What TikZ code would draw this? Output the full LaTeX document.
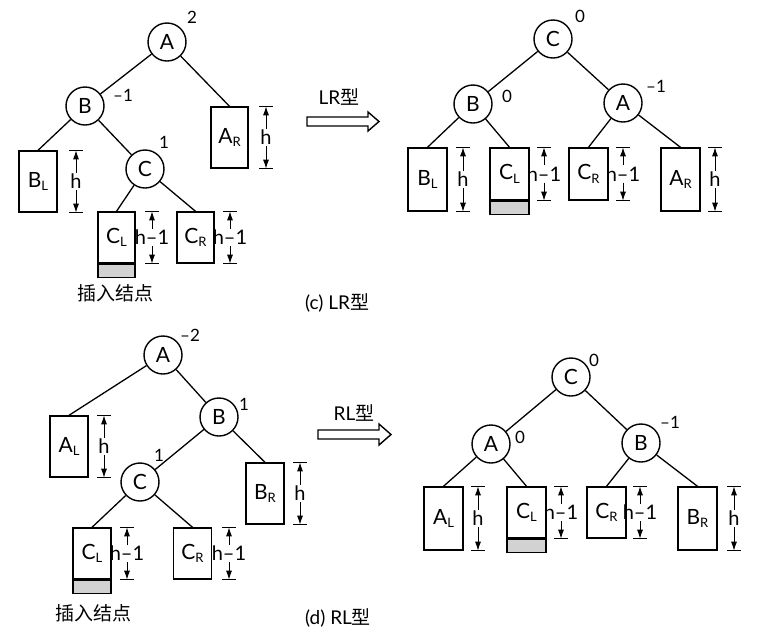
\documentclass[tikz,border=0pt]{standalone}
\usepackage{fontspec}
\setmainfont{Lato}
\newfontfamily\cjk{Noto Sans CJK SC}
\usetikzlibrary{arrows.meta}
\newcommand\subs[1]{\raisebox{-0.35ex}{\fontsize{13}{13}\selectfont #1}}
\newcommand\dimmark[4]{%
  \node[dimlbl] (#1) at (#3.center -| #2,0) {#4};
  \path (#1 |- #3.north) coordinate (#1t);
  \path (#1 |- #3.south) coordinate (#1b);
  \draw[dimarr] (#1) -- (#1t);
  \draw[dimarr] (#1) -- (#1b);
  \draw[dimtick] ([xshift=-7pt]#1t) -- ([xshift=7pt]#1t);
  \draw[dimtick] ([xshift=-7pt]#1b) -- ([xshift=7pt]#1b);
}
\begin{document}
\begin{tikzpicture}[x=1pt,y=-1pt,
  every node/.style={inner sep=0pt},
  circ/.style={circle,draw,line width=1.4pt,minimum size=38pt,font=\fontsize{21}{21}\selectfont},
  tallbox/.style={rectangle,draw,line width=1.4pt,minimum width=38pt,minimum height=62pt,font=\fontsize{21}{21}\selectfont},
  shortbox/.style={rectangle,draw,line width=1.4pt,minimum width=38pt,minimum height=51pt,font=\fontsize{21}{21}\selectfont},
  graybox/.style={rectangle,draw,line width=1.4pt,fill=gray!35,minimum width=38pt,minimum height=13pt},
  bal/.style={font=\fontsize{17}{17}\selectfont},
  dimlbl/.style={inner sep=1pt,font=\fontsize{20}{20}\selectfont},
  dimarr/.style={line width=1pt,-{Latex[length=9pt,width=6pt]}},
  dimtick/.style={line width=1pt},
  edge/.style={line width=1.3pt},
  txt/.style={font=\fontsize{19}{19}\selectfont},
  hollow/.style={line width=1.4pt}
]
\useasboundingbox (0,0) rectangle (762,638);

% ===== (c) left tree =====
\node[circ] (A1) at (167,42) {A};
\node[bal] (a1b) at (192,17) {2};
\node[circ] (B1) at (85,106) {B};
\node[bal] (b1b) at (123,95) {–1};
\node[circ] (C1) at (145,169) {C};
\node[bal] (c1b) at (164,142) {1};
\node[tallbox,minimum width=37pt,minimum height=61pt] (AR1) at (229.5,137.5) {A\subs{R}};
\node[tallbox,minimum height=61pt] (BL1) at (38,181.5) {B\subs{L}};
\node[shortbox,minimum width=37pt] (CL1) at (116.5,237.5) {C\subs{L}};
\node[graybox,minimum width=37pt,anchor=north] (G1) at (CL1.south) {};
\node[shortbox,minimum width=37pt] (CR1) at (195.5,237.5) {C\subs{R}};
\draw[edge] (A1) -- (B1);
\draw[edge] (A1) -- (AR1.north);
\draw[edge] (B1) -- (BL1.north);
\draw[edge] (B1) -- (C1);
\draw[edge] (C1) -- (CL1.north);
\draw[edge] (C1) -- (CR1.north);
\dimmark{d1a}{266}{AR1}{h}
\dimmark{d1b}{76}{BL1}{h}
\dimmark{d1c}{152}{CL1}{h–1}
\dimmark{d1d}{230}{CR1}{h–1}
\node[txt] (ins1) at (115,293) {\cjk 插入结点};

% ===== arrow LR =====
\node[txt] (lr) at (339,97) {LR{\cjk 型}};
\draw[hollow] (307,117) -- (368,117) -- (368,112) -- (379,121.5) -- (368,131) -- (368,126) -- (307,126) -- cycle;

% ===== (c) right tree =====
\node[circ] (C2) at (553,39) {C};
\node[bal] (c2b) at (580,16) {0};
\node[circ] (B2) at (473,104) {B};
\node[bal] (b2b) at (507,96) {0};
\node[circ] (A2) at (623,103) {A};
\node[bal] (a2b) at (656,86) {–1};
\node[tallbox,minimum width=39pt,minimum height=63pt] (BL2) at (427.5,179.5) {B\subs{L}};
\node[shortbox,minimum width=39pt,minimum height=52pt] (CL2) at (509.5,174) {C\subs{L}};
\node[graybox,minimum width=39pt,anchor=north] (G2) at (CL2.south) {};
\node[shortbox,minimum width=39pt,minimum height=52pt] (CR2) at (588.5,174) {C\subs{R}};
\node[tallbox,minimum width=39pt,minimum height=63pt] (AR2) at (680.5,179.5) {A\subs{R}};
\draw[edge] (C2) -- (B2);
\draw[edge] (C2) -- (A2);
\draw[edge] (B2) -- (BL2.north);
\draw[edge] (B2) -- (CL2.north);
\draw[edge] (A2) -- (CR2.north);
\draw[edge] (A2) -- (AR2.north);
\dimmark{d2a}{463}{BL2}{h}
\dimmark{d2b}{544}{CL2}{h–1}
\dimmark{d2c}{623}{CR2}{h–1}
\dimmark{d2d}{715}{AR2}{h}
\node[txt,anchor=west] (capc) at (305,303) {(c) LR{\cjk 型}};

% ===== (d) left tree =====
\node[circ] (A3) at (163,355) {A};
\node[bal] (a3b) at (190,335) {–2};
\node[circ] (B3) at (219,417) {B};
\node[bal] (b3b) at (244,404) {1};
\node[circ] (C3) at (140,482) {C};
\node[bal] (c3b) at (159,455) {1};
\node[tallbox,minimum height=61pt] (AL3) at (69,446.5) {A\subs{L}};
\node[tallbox,minimum height=61pt] (BR3) at (265,493.5) {B\subs{R}};
\node[shortbox] (CL3) at (92,553.5) {C\subs{L}};
\node[graybox,anchor=north] (G3) at (CL3.south) {};
\node[shortbox] (CR3) at (192.5,553.5) {C\subs{R}};
\draw[edge] (A3) -- (AL3.north);
\draw[edge] (A3) -- (B3);
\draw[edge] (B3) -- (C3);
\draw[edge] (B3) -- (BR3.north);
\draw[edge] (C3) -- (CL3.north);
\draw[edge] (C3) -- (CR3.north);
\dimmark{d3a}{104}{AL3}{h}
\dimmark{d3b}{300}{BR3}{h}
\dimmark{d3c}{127}{CL3}{h–1}
\dimmark{d3d}{229}{CR3}{h–1}
\node[txt] (ins3) at (93,613) {\cjk 插入结点};

% ===== arrow RL =====
\node[txt] (rl) at (354,413) {RL{\cjk 型}};
\draw[hollow] (318,430) -- (379,430) -- (379,424) -- (391,434.5) -- (379,445) -- (379,439) -- (318,439) -- cycle;

% ===== (d) right tree =====
\node[circ] (C4) at (571,377) {C};
\node[bal] (c4b) at (594,360) {0};
\node[circ] (A4) at (491,444) {A};
\node[bal] (a4b) at (520,437) {0};
\node[circ] (B4) at (641,443) {B};
\node[bal] (b4b) at (670,422) {–1};
\node[tallbox,minimum width=39pt,minimum height=63pt] (AL4) at (443.5,518.5) {A\subs{L}};
\node[shortbox,minimum width=39pt] (CL4) at (526.5,512.5) {C\subs{L}};
\node[graybox,minimum width=39pt,anchor=north] (G4) at (CL4.south) {};
\node[shortbox,minimum width=39pt] (CR4) at (606.5,512.5) {C\subs{R}};
\node[tallbox,minimum width=39pt,minimum height=63pt] (BR4) at (697.5,518.5) {B\subs{R}};
\draw[edge] (C4) -- (A4);
\draw[edge] (C4) -- (B4);
\draw[edge] (A4) -- (AL4.north);
\draw[edge] (A4) -- (CL4.north);
\draw[edge] (B4) -- (CR4.north);
\draw[edge] (B4) -- (BR4.north);
\dimmark{d4a}{478}{AL4}{h}
\dimmark{d4b}{561}{CL4}{h–1}
\dimmark{d4c}{640}{CR4}{h–1}
\dimmark{d4d}{734}{BR4}{h}
\node[txt,anchor=west] (capd) at (305,618) {(d) RL{\cjk 型}};
\end{tikzpicture}
\end{document}
